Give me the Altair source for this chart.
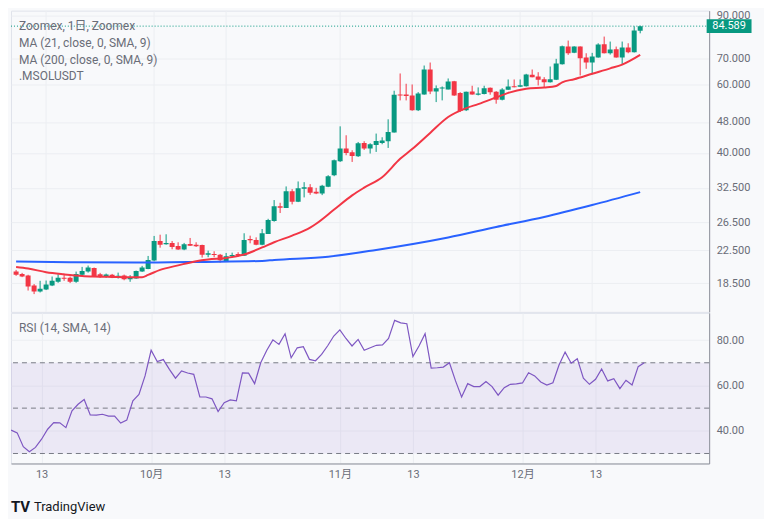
import altair as alt
import pandas as pd

FONT = "Roboto, 'Noto Sans CJK JP', sans-serif"
UP = "#089981"
DOWN = "#f23645"
BG = "#f8f9fb"
GRID = "#eceef2"
AXC = "#8f929b"
LBL = "#6a6d78"

# ---- candles (daily, first = 2023-09-08) ----
opens = [19.82, 19.55, 19.36, 18.25, 17.62, 17.83, 18.25, 18.66, 19.10, 19.10,
         18.66, 19.44, 19.82, 20.26, 19.52, 19.21, 19.44, 19.21, 19.36, 18.95,
         19.02, 19.82, 20.14, 21.15, 23.75, 23.30, 23.48, 23.06, 22.57, 23.34,
         23.24, 23.20, 21.91, 22.00, 21.91, 21.11, 21.70, 22.00, 21.78, 24.04,
         23.89, 23.24, 24.76, 26.72, 29.15, 28.86, 31.89, 29.95, 32.33, 32.65,
         31.76, 31.46, 32.71, 35.05, 38.06, 41.02, 40.13, 39.20, 42.40, 41.02,
         41.90, 42.40, 42.84, 45.08, 56.49, 56.49, 56.16, 51.41, 56.49, 65.46,
         57.50, 58.53, 58.18, 61.10, 56.93, 51.41, 57.50, 56.39, 56.60, 58.77,
         57.40, 54.75, 58.08, 59.33, 59.11, 59.33, 63.45, 62.82, 61.83, 60.74,
         61.61, 67.54, 74.97, 72.23, 74.97, 70.26, 68.23, 70.26, 75.99, 72.06,
         73.78, 70.26, 74.53, 72.49, 82.27]
highs = [20.02, 19.67, 19.45, 18.41, 18.77, 18.80, 19.25, 19.52, 19.44, 19.25,
         19.82, 20.38, 20.54, 20.30, 19.67, 19.59, 19.55, 19.70, 19.47, 19.41,
         19.94, 20.50, 21.74, 24.47, 24.65, 24.71, 23.75, 23.57, 23.48, 24.18,
         23.57, 23.24, 22.43, 22.35, 22.00, 22.13, 22.17, 22.22, 24.86, 24.51,
         24.27, 25.49, 27.08, 30.25, 29.77, 32.79, 32.27, 33.77, 33.63, 33.24,
         32.52, 33.10, 35.05, 38.44, 46.78, 44.37, 40.61, 42.65, 42.84, 42.33,
         44.82, 43.85, 48.76, 57.74, 63.94, 60.17, 59.92, 57.26, 67.02, 68.22,
         59.57, 59.22, 62.08, 61.20, 57.26, 57.45, 59.46, 58.88, 59.46, 58.85,
         57.60, 58.63, 61.72, 61.72, 61.72, 63.81, 65.46, 64.42, 62.56, 66.63,
         69.72, 75.41, 77.67, 75.10, 75.05, 72.06, 72.23, 76.44, 79.52, 77.21,
         74.97, 77.21, 76.44, 84.50, 84.85]
lows = [19.33, 19.18, 17.72, 17.35, 17.52, 17.77, 18.19, 18.55, 18.77, 18.52,
        18.55, 19.33, 19.70, 19.18, 19.10, 19.10, 19.07, 19.02, 18.83, 18.66,
        18.99, 19.78, 20.10, 21.07, 22.83, 23.24, 22.62, 22.53, 22.49, 23.06,
        22.93, 21.53, 21.58, 21.58, 20.90, 21.07, 21.61, 21.65, 21.75, 23.43,
        23.16, 23.16, 24.76, 26.62, 28.02, 28.86, 29.49, 29.89, 30.73, 31.21,
        31.33, 31.15, 32.65, 34.84, 37.90, 39.43, 37.90, 39.04, 40.69, 39.83,
        40.21, 42.08, 41.17, 45.08, 54.53, 54.53, 51.30, 51.20, 56.39, 56.59,
        53.99, 54.53, 58.18, 56.00, 50.90, 51.20, 56.40, 56.16, 56.50, 56.39,
        53.48, 54.53, 58.00, 58.90, 59.00, 59.20, 62.50, 59.57, 58.98, 60.60,
        61.50, 67.40, 71.38, 72.10, 63.19, 65.73, 63.56, 70.20, 72.00, 71.51,
        70.20, 67.30, 72.06, 72.40, 81.08]
closes = [19.44, 19.25, 18.15, 17.62, 17.90, 18.36, 18.77, 19.10, 18.99, 18.66,
          19.55, 19.90, 20.30, 19.29, 19.21, 19.47, 19.18, 19.33, 18.95, 19.14,
          19.90, 20.30, 21.23, 23.75, 23.24, 23.48, 22.93, 22.57, 23.30, 23.10,
          23.02, 21.91, 22.09, 21.87, 21.19, 21.70, 21.87, 21.78, 23.89, 23.85,
          23.24, 24.86, 26.88, 29.15, 28.91, 31.89, 29.95, 32.46, 32.65, 31.57,
          31.46, 32.90, 34.84, 38.28, 41.02, 39.97, 39.27, 42.33, 41.02, 42.08,
          42.90, 43.00, 45.24, 56.39, 56.16, 55.93, 51.41, 56.83, 65.46, 57.50,
          58.63, 58.88, 60.99, 56.16, 51.20, 57.40, 56.49, 56.83, 58.63, 57.26,
          54.75, 58.18, 59.22, 58.98, 59.68, 63.56, 62.56, 61.61, 60.74, 61.83,
          67.81, 75.10, 72.06, 74.97, 69.97, 68.23, 70.67, 75.85, 72.06, 73.65,
          70.26, 74.53, 72.49, 82.38, 84.589]

# ---- moving averages (day offset from 13 Sep, value) ----
ma21_days = [-5, -3, 0, 3, 6, 8, 11, 14, 16, 17, 19, 22, 25, 27, 30, 33, 36, 38, 41,
             44, 45, 48, 51, 53, 56, 59, 61, 64, 67, 70, 72, 75, 77, 80, 83, 85, 86,
             88, 91, 94, 96, 99]
ma21_vals = [20.36, 20.18, 19.75, 19.50, 19.31, 19.25, 19.21, 19.18, 19.18, 19.44,
             20.02, 20.56, 21.08, 21.30, 21.49, 21.92, 22.86, 23.58, 24.51, 25.70,
             26.30, 28.60, 31.10, 32.55, 34.62, 38.60, 40.90, 45.00, 49.42, 52.10,
             53.35, 55.50, 57.00, 58.40, 58.85, 59.40, 60.70, 61.80, 63.83, 65.90,
             67.40, 71.38]
ma200_days = [-5, 4, 15, 26, 36, 38, 47, 55, 67, 75, 83, 91, 99]
ma200_vals = [21.05, 20.95, 20.90, 20.99, 21.11, 21.23, 21.65, 22.53, 24.25, 25.80,
              27.37, 29.37, 31.70]

# ---- RSI, one per candle ----
rsi_vals = [40.3, 39.1, 33.0, 30.8, 32.7, 36.3, 40.7, 43.6, 43.5, 41.4,
            48.8, 51.7, 53.8, 47.0, 46.9, 47.3, 46.5, 46.5, 43.4, 44.7,
            53.2, 56.0, 64.2, 75.5, 70.5, 71.4, 67.1, 63.2, 66.4, 65.5,
            64.9, 54.9, 54.9, 54.1, 48.5, 52.4, 53.6, 53.2, 65.5, 65.4,
            60.8, 70.0, 75.5, 80.1, 78.1, 82.8, 72.2, 76.6, 77.1, 71.5,
            70.9, 73.7, 77.5, 81.8, 84.5, 80.7, 77.4, 80.3, 75.5, 76.6,
            77.7, 77.9, 80.7, 88.7, 87.6, 87.2, 72.7, 77.4, 82.8, 67.6,
            67.8, 68.1, 70.0, 62.0, 54.9, 60.8, 59.5, 59.5, 61.7, 59.5,
            55.7, 59.0, 60.5, 60.7, 61.1, 65.6, 64.2, 61.5, 60.2, 61.2,
            69.0, 74.7, 69.8, 71.8, 63.2, 60.5, 62.7, 67.3, 62.0, 63.0,
            58.6, 62.3, 60.2, 68.3, 70.0]
rsi_levels = [70, 50, 30]

# ---- axes ----
tick_days = [0, 18, 30, 49, 61, 79, 91]
tick_labels = ["13", "10月", "13", "11月", "13", "12月", "13"]
price_ticks = [18.5, 22.5, 26.5, 32.5, 40, 48, 60, 70, 90]
rsi_ticks = [40, 60, 80]

legend_lines = ["Zoomex, 1日, Zoomex", "MA (21, close, 0, SMA, 9)",
                "MA (200, close, 0, SMA, 9)", ".MSOLUSDT"]

ref = pd.Timestamp("2023-09-13")
dates = pd.date_range("2023-09-08", periods=len(opens), freq="D")
days = [(d - ref).days for d in dates]

candles = pd.DataFrame({"day": days, "open": opens, "high": highs,
                        "low": lows, "close": closes})
candles["dir"] = ["up" if c >= o else "down" for o, c in zip(opens, closes)]
ma21 = pd.DataFrame({"day": ma21_days, "v": ma21_vals})
ma200 = pd.DataFrame({"day": ma200_days, "v": ma200_vals})
rsi = pd.DataFrame({"day": days, "rsi": rsi_vals})
ticks_df = pd.DataFrame({"day": tick_days})

W = 700
H1 = 302
H2 = 151

xs = alt.Scale(domain=[-5.02, 109.66], nice=False, zero=False)
ys = alt.Scale(type="log", domain=[15.62, 92.69], nice=False)
rs = alt.Scale(domain=[25.6, 92], nice=False, zero=False)

label_expr = "".join(f"datum.value == {d} ? '{l}' : " for d, l in zip(tick_days, tick_labels)) + "''"

x_rsi_axis = alt.Axis(values=tick_days, labelExpr=label_expr, ticks=False, domain=True,
                      domainColor=AXC, grid=True, gridColor=GRID, title=None,
                      labelPadding=5, labelFontSize=11, labelColor=LBL, labelFont=FONT)
y_main_axis = alt.Axis(orient="right", values=price_ticks, format=".3f", grid=True,
                       gridColor=GRID, ticks=False, domainColor=AXC, labelPadding=7,
                       labelFontSize=11, labelColor=LBL, labelFont=FONT, title=None)
y_rsi_axis = alt.Axis(orient="right", values=rsi_ticks, format=".2f", grid=True,
                      gridColor=GRID, ticks=False, domainColor=AXC, labelPadding=7,
                      labelFontSize=11, labelColor=LBL, labelFont=FONT, title=None)

color = alt.Color("dir:N", scale=alt.Scale(domain=["up", "down"], range=[UP, DOWN]), legend=None)

vgrid = alt.Chart(ticks_df).mark_rule(color=GRID, strokeWidth=1).encode(
    x=alt.X("day:Q", scale=xs, axis=None))
wicks = alt.Chart(candles).mark_rule(strokeWidth=1, clip=True).encode(
    x=alt.X("day:Q", scale=xs, axis=None),
    y=alt.Y("low:Q", scale=ys, axis=y_main_axis),
    y2="high:Q",
    color=color,
)
bodies = alt.Chart(candles).mark_bar(size=5, clip=True).encode(
    x=alt.X("day:Q", scale=xs, axis=None),
    y=alt.Y("open:Q", scale=ys),
    y2="close:Q",
    color=color,
)
ma21_line = alt.Chart(ma21).mark_line(color="#f23645", strokeWidth=2, clip=True,
                                      interpolate="monotone").encode(
    x=alt.X("day:Q", scale=xs, axis=None), y=alt.Y("v:Q", scale=ys))
ma200_line = alt.Chart(ma200).mark_line(color="#2962ff", strokeWidth=2, clip=True,
                                        interpolate="monotone").encode(
    x=alt.X("day:Q", scale=xs, axis=None), y=alt.Y("v:Q", scale=ys))

last = pd.DataFrame({"price": [closes[-1]], "label": [f"{closes[-1]:.3f}"]})
last_rule = alt.Chart(last).mark_rule(color=UP, strokeDash=[1, 2], strokeWidth=1).encode(
    y=alt.Y("price:Q", scale=ys))
BOX = "M-1,-0.311L1,-0.311L1,0.311L-1,0.311Z"
last_box = alt.Chart(last).mark_point(shape=BOX, size=2025, filled=True, opacity=1,
                                      color=UP, clip=False).encode(
    x=alt.value(W + 20), y=alt.Y("price:Q", scale=ys))
last_text = alt.Chart(last).mark_text(color="white", fontSize=11, font=FONT,
                                      clip=False).encode(
    x=alt.value(W + 20), y=alt.Y("price:Q", scale=ys), text="label:N")

legend_layers = []
for i, t in enumerate(legend_lines):
    legend_layers.append(
        alt.Chart(pd.DataFrame({"t": [t]})).mark_text(
            align="left", baseline="middle", fontSize=12, font=FONT, color=LBL
        ).encode(x=alt.value(8), y=alt.value(15 + 17 * i), text="t:N")
    )

main = alt.layer(vgrid, wicks, bodies, ma200_line, ma21_line, last_rule, last_box, last_text,
                 *legend_layers).properties(width=W, height=H1)

band = alt.Chart(pd.DataFrame({"top": [rsi_levels[0]], "bot": [rsi_levels[-1]]})).mark_rect(
    color="#7e57c2", opacity=0.1).encode(
    x=alt.value(0), x2=alt.value(W),
    y=alt.Y("top:Q", scale=rs, axis=y_rsi_axis), y2="bot:Q")
levels = alt.Chart(pd.DataFrame({"lv": rsi_levels})).mark_rule(
    color="#787b86", strokeDash=[5, 4], strokeWidth=1).encode(y=alt.Y("lv:Q", scale=rs))
rsi_line = alt.Chart(rsi).mark_line(color="#7e57c2", strokeWidth=1.2, clip=True).encode(
    x=alt.X("day:Q", scale=xs, axis=x_rsi_axis), y=alt.Y("rsi:Q", scale=rs))
rsi_label = alt.Chart(pd.DataFrame({"t": ["RSI (14, SMA, 14)"]})).mark_text(
    align="left", baseline="middle", fontSize=12, font=FONT, color=LBL).encode(
    x=alt.value(8), y=alt.value(15), text="t:N")
logo_icon = alt.Chart(pd.DataFrame({"t": ["TV"]})).mark_text(
    align="left", baseline="middle", fontSize=15, fontWeight="bold", font=FONT,
    color="#131722", clip=False).encode(x=alt.value(0), y=alt.value(195), text="t:N")
logo_text = alt.Chart(pd.DataFrame({"t": ["TradingView"]})).mark_text(
    align="left", baseline="middle", fontSize=13, font=FONT,
    color="#131722", clip=False).encode(x=alt.value(23), y=alt.value(195), text="t:N")

rsi_panel = alt.layer(band, levels, rsi_line, rsi_label, logo_icon, logo_text).properties(
    width=W, height=H2)

chart = alt.vconcat(main, rsi_panel, spacing=-2).properties(
    background=BG,
    padding={"left": 2, "top": 0, "right": 12, "bottom": 2},
).configure_view(stroke="#e0e3eb")

chart.save("out.html", embed_options={"renderer": "svg", "actions": False})
